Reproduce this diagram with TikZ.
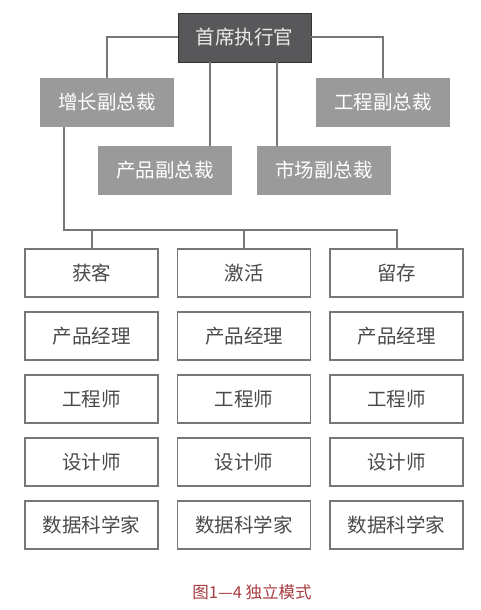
\documentclass[tikz,border=0pt]{standalone}
\usepackage{fontspec}
\newfontfamily\cjk{Noto Sans CJK SC}
\usetikzlibrary{positioning}

\definecolor{ceofill}{HTML}{58585A}
\definecolor{vpfill}{HTML}{9A9A9A}
\definecolor{linegray}{HTML}{777777}
\definecolor{teamtext}{HTML}{4A4A4A}
\definecolor{capred}{HTML}{A83C40}

\begin{document}
\begin{tikzpicture}[
  x=1pt, y=1pt,
  box/.style={inner sep=0pt, outer sep=0pt, align=center,
              font=\cjk\fontsize{19.5}{21}\selectfont,
              minimum width=134pt, minimum height=49pt},
  ceo/.style={box, draw=black!80, line width=0.8pt, fill=ceofill, text=white!92!black,
              minimum width=133pt},
  vp/.style={box, fill=vpfill, text=white},
  team/.style={box, draw=linegray, line width=1.3pt, fill=white, text=teamtext,
               minimum width=133pt, minimum height=48pt},
  link/.style={draw=linegray, line width=2pt},
  caption/.style={font=\cjk\fontsize{16.5}{19}\selectfont, text=capred}]
  \useasboundingbox (0,0) rectangle (480,610);
  % top of the org chart
  \node[ceo] (ceo) at (244.5,572.5) {首席执行官};
  \node[vp] (growth) at (107,507.5) {增长副总裁};
  \node[vp] (eng) at (383,507.5) {工程副总裁};
  \node[vp] (prod) at (165,439.5) {产品副总裁};
  \node[vp] (mkt) at (324,439.5) {市场副总裁};
  % growth teams
  \node[team] (a1) at (91.5,337) {获客};
  \node[team, right=19.5pt of a1] (b1) {激活};
  \node[team, right=19.5pt of b1] (c1) {留存};
  \node[team, below=15pt of a1] (a2) {产品经理};
  \node[team, below=15pt of b1] (b2) {产品经理};
  \node[team, below=15pt of c1] (c2) {产品经理};
  \node[team, below=15pt of a2] (a3) {工程师};
  \node[team, below=15pt of b2] (b3) {工程师};
  \node[team, below=15pt of c2] (c3) {工程师};
  \node[team, below=15pt of a3] (a4) {设计师};
  \node[team, below=15pt of b3] (b4) {设计师};
  \node[team, below=15pt of c3] (c4) {设计师};
  \node[team, below=15pt of a4] (a5) {数据科学家};
  \node[team, below=15pt of b4] (b5) {数据科学家};
  \node[team, below=15pt of c4] (c5) {数据科学家};
  \node[caption] (cap) at (252,18) {图1—4\ 独立模式};
  % connectors
  \draw[link] (ceo.west) -| (growth.north);
  \draw[link] (ceo.east) -| (eng.north);
  \draw[link] ([xshift=45pt]prod.north) -- ([xshift=45pt]prod.north |- ceo.south);
  \draw[link] ([xshift=-47pt]mkt.north) -- ([xshift=-47pt]mkt.north |- ceo.south);
  \draw[link] ([xshift=-43pt]growth.south) |- ([yshift=19pt]c1.north) -- (c1.north);
  \draw[link] (a1.north) -- ++(0,19pt);
  \draw[link] (b1.north) -- ++(0,19pt);
\end{tikzpicture}
\end{document}
